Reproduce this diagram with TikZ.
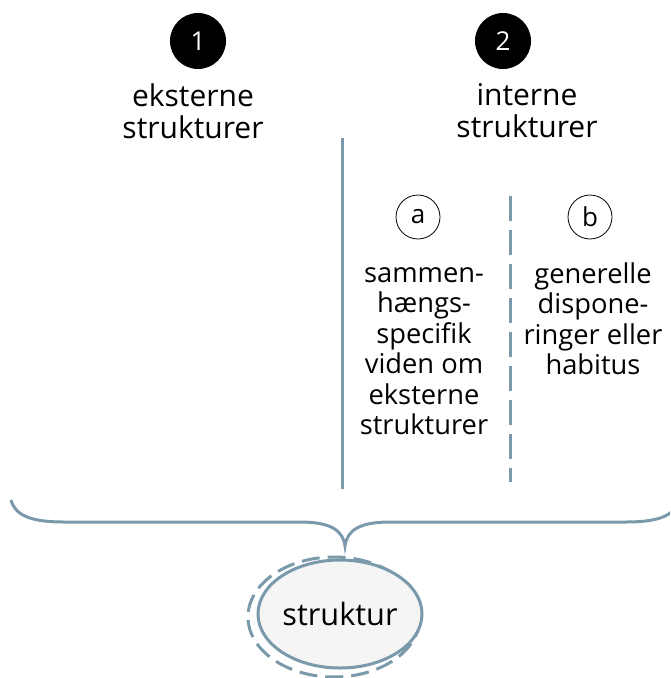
\documentclass[tikz,border=0pt]{standalone}
\usepackage{fontspec}
\setmainfont{Open Sans}
\usetikzlibrary{shapes.geometric}
\definecolor{slate}{RGB}{122,154,172}
\definecolor{pale}{RGB}{245,245,245}
\begin{document}
\begin{tikzpicture}[x=1pt,y=-1pt,
  numdot/.style={circle,fill=black,minimum size=56pt,inner sep=0pt,text=white,font=\fontsize{26}{30}\selectfont},
  letterdot/.style={circle,draw=black,line width=0.8pt,minimum size=44pt,inner sep=0pt,font=\fontsize{26}{30}\selectfont},
  head/.style={align=center,font=\fontsize{30}{32}\selectfont,inner sep=0pt},
  body/.style={align=center,font=\fontsize{27.3}{30.5}\selectfont,inner sep=0pt},
  rule/.style={draw=slate,line width=3pt},
]
\useasboundingbox (0,0) rectangle (670,678);
\clip (0,0) rectangle (670,678);
% numbered dots
\node[numdot] (n1) at (198,41) {1};
\node[numdot] (n2) at (503,41) {2};
% headings
\node[head] (h1) at (193,111) {eksterne\\strukturer};
\node[head] (h2) at (527,111) {interne\\strukturer};
% dividers
\coordinate (s1) at (342,138);
\coordinate (s2) at (342,489);
\draw[rule] (s1) -- (s2);
\coordinate (d1) at (510,196);
\coordinate (d2) at (510,482);
\draw[rule,dash pattern=on 25pt off 9pt] (d1) -- (d2);
% letter dots
\node[letterdot] (la) at (418,217) {a};
\node[letterdot] (lb) at (590,217) {b};
% bodies
\node[body] (ta) at (424,351) {sammen-\\hængs-\\specifik\\viden om\\eksterne\\strukturer};
\node[body] (tb) at (593,319) {generelle\\dispone-\\ringer eller\\habitus};
% brace
\draw[rule] (11,500) .. controls (15,515) and (30,522) .. (64,522) -- (300,522)
  .. controls (330,522) and (343,530) .. (345,546)
  .. controls (347,530) and (360,522) .. (390,522) -- (626,522)
  .. controls (660,522) and (675,515) .. (679,500);
% result
\draw[slate,line width=3pt,dash pattern=on 18pt off 8pt] (334,617) ellipse [x radius=86pt, y radius=60pt];
\node[ellipse,draw=slate,fill=pale,line width=3pt,minimum width=164pt,minimum height=108pt,inner sep=0pt,font=\fontsize{30.7}{32}\selectfont] (st) at (340,614) {struktur};
\end{tikzpicture}
\end{document}
